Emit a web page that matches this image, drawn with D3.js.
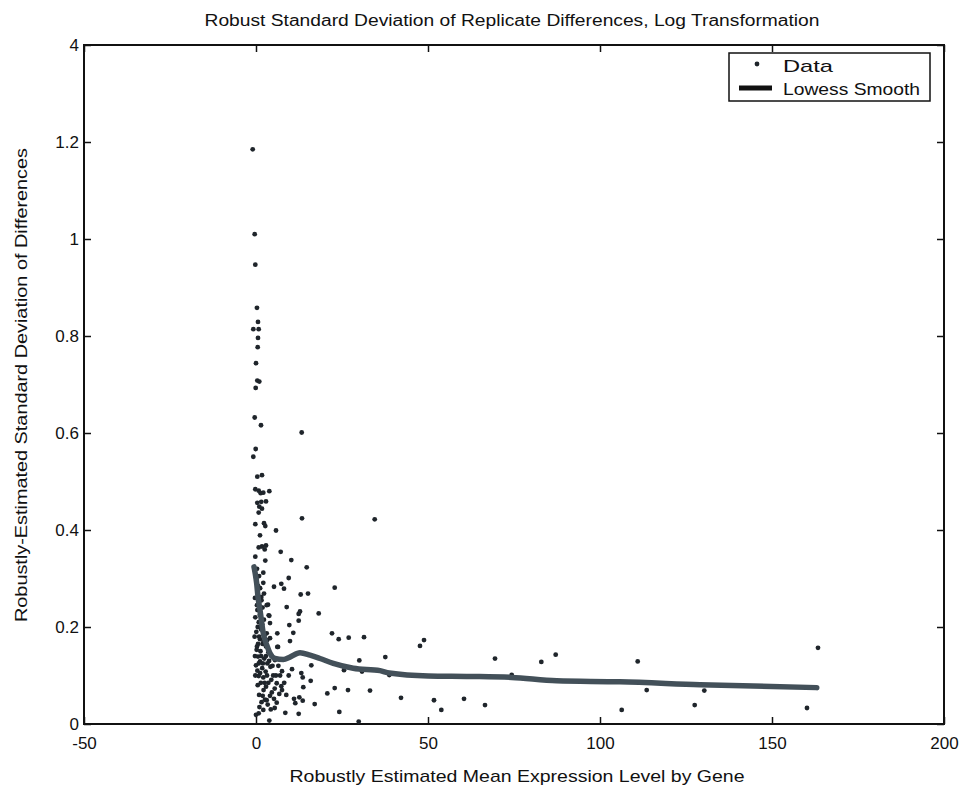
<!DOCTYPE html>
<html>
<head>
<meta charset="utf-8">
<script src="https://d3js.org/d3.v7.min.js"></script>
<style>
  body { margin: 0; background: #fff; }
  svg text { font-family: "Liberation Sans", Arial, sans-serif; fill: #111; }
</style>
</head>
<body>
<div id="chart-area"></div>
<script>
// 1. Data
var dataPoints = [
  [-0.96,1.185],[-0.38,1.010],[-0.20,0.947],[0.29,0.858],[0.58,0.829],[-0.78,0.814],[0.78,0.814],[0.58,0.796],
  [0.49,0.777],[0,0.744],[0.38,0.708],[0.96,0.706],[-0.09,0.693],[-0.38,0.632],[1.45,0.616],[13.28,0.601],
  [-0.09,0.567],[-0.78,0.551],[0.38,0.510],[1.74,0.513],[-0.2,0.484],[0.78,0.481],[1.37,0.476],[2.12,0.477],
  [3.87,0.480],[0.38,0.456],[1.54,0.458],[2.91,0.459],[0.96,0.448],[1.74,0.444],[0.78,0.436],[-0.2,0.412],
  [2.33,0.414],[2.70,0.408],[5.81,0.399],[1.16,0.389],[0.78,0.364],[1.74,0.366],[2.91,0.368],[2.53,0.360],
  [7.18,0.355],[-0.2,0.345],[2.70,0.337],[10.26,0.338],[2.12,0.312],[9.51,0.301],[2.12,0.291],[5.23,0.283],
  [7.35,0.289],[8.14,0.279],[2.33,0.269],[1.54,0.262],[13.37,0.424],[34.51,0.422],[14.74,0.323],[22.88,0.281],
  [12.99,0.267],[15.12,0.269],[3.49,0.246],[8.92,0.241],[12.79,0.232],[12.41,0.227],[3.69,0.224],[18.23,0.228],
  [9.68,0.204],[12.41,0.213],[6.19,0.187],[10.84,0.188],[3.11,0.187],[3.28,0.173],[9.88,0.171],[6.19,0.159],
  [22.09,0.187],[24.04,0.175],[26.95,0.178],[31.40,0.179],[0.2,0.153],[0.58,0.139],[1.16,0.129],[0,0.121],
  [16.08,0.121],[30.03,0.131],[7.56,0.109],[10.47,0.113],[13.17,0.105],[13.58,0.096],[25.58,0.111],[30.81,0.108],
  [0.78,0.099],[2.12,0.096],[4.45,0.091],[6.02,0.084],[7.35,0.078],[15.90,0.089],[13.75,0.076],[22.88,0.074],
  [20.73,0.063],[26.74,0.070],[33.14,0.069],[2.91,0.077],[5.44,0.073],[4.07,0.058],[1.95,0.058],[3.11,0.049],
  [5.23,0.052],[7.56,0.070],[6.77,0.062],[11.05,0.052],[12.59,0.055],[13.58,0.048],[6.02,0.044],[5.44,0.033],
  [11.42,0.043],[17.06,0.041],[2.12,0.029],[0.78,0.022],[0,0.019],[8.52,0.023],[12.41,0.021],[24.22,0.025],
  [3.87,0.007],[29.86,0.005],[42.15,0.054],[37.59,0.138],[47.67,0.161],[48.84,0.173],[69.48,0.135],[82.94,0.128],
  [87.12,0.143],[51.74,0.049],[53.87,0.029],[60.47,0.052],[66.57,0.039],[38.75,0.101],[74.33,0.101],[110.96,0.129],
  [113.58,0.070],[130.32,0.069],[163.37,0.157],[106.31,0.029],[127.53,0.039],[160.17,0.033],
  [3.11,0.245],[3.87,0.223],[4.07,0.208],[1.37,0.201],[1.16,0.175],[4.07,0.177],[6.4,0.159],
  [0.3,0.32],[0.9,0.305],[0.2,0.295],[1.2,0.28],[0.5,0.27],[1.6,0.255],[0.7,0.25],[1.9,0.24],[0.4,0.235],
  [1.1,0.225],[2.3,0.215],[0.8,0.21],[1.5,0.195],[0.1,0.19],[2.6,0.185],[1.9,0.165],[0.6,0.165],[2.9,0.16],
  [1.3,0.15],[3.6,0.148],[4.5,0.14],[2.4,0.135],[5.5,0.132],[3.3,0.125],[1.8,0.115],[4.2,0.118],[6.5,0.12],
  [2.8,0.108],[5.0,0.1],[0.4,0.11],[3.6,0.085],[1.4,0.085],[2.2,0.07],[4.6,0.065],[0.9,0.06],[3.4,0.04],
  [1.6,0.045],[8.8,0.06],[9.5,0.1],
  [0.1,0.30],[0.6,0.285],[-0.3,0.26],[0.3,0.245],[1.4,0.24],[-0.2,0.22],[0.5,0.2],[1.8,0.205],[-0.4,0.18],
  [0.9,0.18],[2.2,0.17],[0.3,0.16],[1.5,0.14],[-0.3,0.14],[2.9,0.14],[0.8,0.125],[2.0,0.125],[3.8,0.13],
  [-0.2,0.1],[1.2,0.105],[3.2,0.1],[4.8,0.12],[0.5,0.08],[2.5,0.085],[5.8,0.1],[1.0,0.035],[2.6,0.05],
  [4.3,0.03],[7.0,0.1],[8.2,0.085]
];

var lowessPoints = [
  [-0.58,0.324],[-0.29,0.313],[0.2,0.290],[0.58,0.262],[1.16,0.235],[2.12,0.187],[3.11,0.163],[4.07,0.146],
  [5.52,0.135],[7.94,0.133],[9.88,0.138],[12.79,0.147],[15.70,0.142],[18.60,0.135],[22.47,0.125],[28.28,0.115],
  [36.05,0.110],[38.75,0.105],[50.09,0.099],[62.2,0.098],[74.33,0.096],[87.41,0.089],[105.8,0.087],
  [129.1,0.081],[163.0,0.075]
];

var xTicks = [-50, 0, 50, 100, 150, 200];
var yTicks = [0, 0.2, 0.4, 0.6, 0.8, 1, 1.2, 1.4];
var yTickLabels = ["0", "0.2", "0.4", "0.6", "0.8", "1", "1.2", "4"];
var legendLabels = ["Data", "Lowess Smooth"];

var titleText = "Robust Standard Deviation of Replicate Differences, Log Transformation";
var xLabelText = "Robustly Estimated Mean Expression Level by Gene";
var yLabelText = "Robustly-Estimated Standard Deviation of Differences";

// 2. Canvas
var svg_width = 963, svg_height = 788;
var margin = { top: 45, left: 84, right: 19, bottom: 64 };
var width = svg_width - margin.left - margin.right;
var height = svg_height - margin.top - margin.bottom;

var svg = d3.select("#chart-area").append("svg")
  .attr("width", svg_width)
  .attr("height", svg_height);

var g = svg.append("g")
  .attr("transform", "translate(" + margin.left + "," + margin.top + ")");

// 3. Scales
var x_scaling = d3.scaleLinear().domain([-50, 200]).range([0, width]);
var y_scaling = d3.scaleLinear().domain([0, 1.4]).range([height, 0]);

// 4. Axes (ticks inward on all four sides)
var x_axis_call = d3.axisBottom(x_scaling).tickValues(xTicks).tickSizeInner(-7).tickSizeOuter(0)
  .tickPadding(13).tickFormat(function (d) { return d; });
var y_axis_call = d3.axisLeft(y_scaling).tickValues(yTicks).tickSizeInner(-7).tickSizeOuter(0)
  .tickPadding(14).tickFormat(function (d, i) { return yTickLabels[i]; });
var x_top_call = d3.axisTop(x_scaling).tickValues(xTicks).tickSizeInner(-7).tickSizeOuter(0).tickFormat("");
var y_right_call = d3.axisRight(y_scaling).tickValues(yTicks).tickSizeInner(-7).tickSizeOuter(0).tickFormat("");

var xa = g.append("g").attr("class", "x_axis").attr("transform", "translate(0," + height + ")").call(x_axis_call);
var ya = g.append("g").attr("class", "y_axis").call(y_axis_call);
var xt = g.append("g").attr("class", "x_top").call(x_top_call);
var yr = g.append("g").attr("class", "y_right").attr("transform", "translate(" + width + ",0)").call(y_right_call);

[xa, ya, xt, yr].forEach(function (a) {
  a.select(".domain").remove();
  a.selectAll("line").attr("stroke", "#111").attr("stroke-width", 1.5);
  a.selectAll("text").attr("font-size", "17px").attr("font-family", "DejaVu Sans, Arial, sans-serif").attr("fill", "#111");
});
ya.selectAll("text").attr("dx", 9);

// box
g.append("rect")
  .attr("x", 0).attr("y", 0)
  .attr("width", width).attr("height", height)
  .attr("fill", "none")
  .attr("stroke", "#111")
  .attr("stroke-width", 2);

// 5. Data points
g.selectAll("circle.pt").data(dataPoints).enter()
  .append("circle")
  .attr("class", "pt")
  .attr("cx", function (d) { return x_scaling(d[0]); })
  .attr("cy", function (d) { return y_scaling(d[1]); })
  .attr("r", 2.4)
  .attr("fill", "#1f252b");

// 6. Lowess smooth line
var line = d3.line()
  .x(function (d) { return x_scaling(d[0]); })
  .y(function (d) { return y_scaling(d[1]); })
  .curve(d3.curveMonotoneX);

g.append("path")
  .datum(lowessPoints)
  .attr("fill", "none")
  .attr("stroke", "#435059")
  .attr("stroke-width", 5.5)
  .attr("stroke-linecap", "round")
  .attr("stroke-linejoin", "round")
  .attr("d", line);

// 7. Titles (the scanned text is wider than the font, so stretch to the measured widths)
svg.append("text")
  .attr("x", 512).attr("y", 26)
  .attr("text-anchor", "middle")
  .attr("font-size", "16px")
  .attr("textLength", 615)
  .attr("lengthAdjust", "spacingAndGlyphs")
  .text(titleText);

svg.append("text")
  .attr("x", 517).attr("y", 782)
  .attr("text-anchor", "middle")
  .attr("font-size", "17px")
  .attr("textLength", 455)
  .attr("lengthAdjust", "spacingAndGlyphs")
  .text(xLabelText);

svg.append("text")
  .attr("transform", "translate(27," + 385 + ") rotate(-90)")
  .attr("text-anchor", "middle")
  .attr("font-size", "17px")
  .attr("textLength", 474)
  .attr("lengthAdjust", "spacingAndGlyphs")
  .text(yLabelText);

// 8. Legend
var legend = svg.append("g").attr("class", "Legend_Holder").attr("transform", "translate(729,53)");
legend.append("rect")
  .attr("width", 201).attr("height", 48)
  .attr("fill", "#fff")
  .attr("stroke", "#111")
  .attr("stroke-width", 1.5);
legend.append("circle").attr("cx", 28).attr("cy", 11).attr("r", 2.4).attr("fill", "#1f252b");
legend.append("line")
  .attr("x1", 10).attr("x2", 43).attr("y1", 35).attr("y2", 35)
  .attr("stroke", "#111").attr("stroke-width", 5);
var legendWidths = [50, 137];
legendLabels.forEach(function (label, i) {
  legend.append("text")
    .attr("x", 54).attr("y", 19 + i * 23)
    .attr("font-size", "17px")
    .attr("textLength", legendWidths[i])
    .attr("lengthAdjust", "spacingAndGlyphs")
    .text(label);
});
</script>
</body>
</html>
